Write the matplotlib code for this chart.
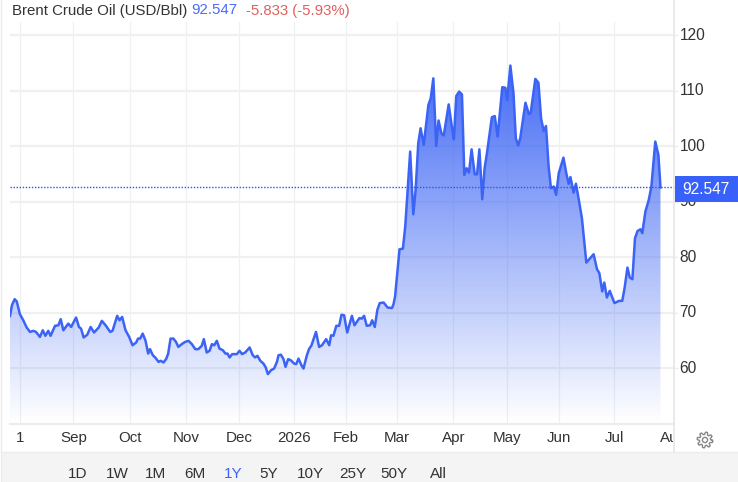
import numpy as np
import matplotlib
matplotlib.use('Agg')
import matplotlib.pyplot as plt
from matplotlib.patches import Polygon, Rectangle, Circle
from matplotlib.colors import LinearSegmentedColormap
from matplotlib.transforms import Bbox, ScaledTranslation

# session number (trading days on the chart) and price
sessions = [0, .8, 1.8, 2.6, 3.8, 5.1, 6.4, 7.7, 9, 10, 11.5, 12.6, 13.6, 14.7, 15.6, 17.3, 18.6, 19.5, 20.5, 22.4,
            23.5, 25.4, 26.5, 27.3, 28.3, 29.7, 31, 32.3, 34.1, 35.3, 36.9, 38.5, 39.4, 41.2, 42.1, 43.1, 44.4, 45.8, 47.1, 48.5,
            49.2, 50, 51, 52.1, 53.1, 53.8, 54.9, 55.8, 57.1, 57.9, 59, 60, 60.8, 61.7, 62.8, 63.8, 64.7, 66, 67.3, 68.6,
            69.9, 71.2, 72.4, 73.7, 74.5, 75.6, 76.7, 77.6, 78.5, 79.5, 80.5, 81.8, 82.8, 83.6, 84.4, 85.4, 87.2, 88.2, 89.2, 90.4,
            92.1, 93.3, 94.2, 95.1, 96.2, 97.4, 98.3, 99.1, 100.3, 101.5, 102.6, 103.2, 104.1, 105.1, 105.9, 106.9, 107.9, 109.2, 110, 110.9,
            112, 112.8, 114.1, 115, 115.8, 117.6, 118.8, 119.9, 121.5, 122.7, 123.4, 124.3, 125.4, 126.5, 127.4, 128.4, 129.6, 131.4, 132.4, 134.3,
            135.2, 136.1, 137.1, 138.4, 139.2, 140.2, 141.2, 142.1, 143.6, 145.1, 146.8, 147.4, 148, 149.7, 151, 151.9, 153.8, 155, 155.9, 156.9,
            157.8, 159, 160.8, 161.7, 162.7, 163.8, 164.7, 165.8, 166.7, 168.6, 169.9, 170.6, 171.5, 172.6, 173.7, 174.6, 175.5, 176.4, 177.4, 178.6,
            179.5, 180.4, 181.5, 182.4, 183.3, 185.2, 186.3, 187.4, 189.2, 190.4, 191.1, 192.3, 193.5, 194.4, 195.3, 196.1, 198.1, 199.4, 200.1, 201.9,
            203.1, 204.1, 205.1, 206, 207, 207.9, 209, 209.9, 210.9, 212.7, 213.8, 214.7, 215.4, 216.6, 217.5, 218.5, 219.8, 221.5, 224.3, 225.6,
            226.5, 227.6, 228.4, 229.4, 230.5, 232.3, 234.1, 235.3, 236.2, 237.3, 238.2, 239.2, 240.2, 241.2, 242.3, 243, 244.2, 245.5, 246.5, 248,
            249.2, 250]
prices = [69.4, 71.4, 72.4, 72.0, 69.7, 68.6, 67.3, 66.5, 66.7, 66.5, 65.6, 66.8, 65.8, 66.7, 65.8, 67.6, 67.7, 68.8, 66.8, 68.0,
          67.4, 69.1, 67.4, 67.1, 65.5, 66.0, 67.4, 66.4, 67.3, 68.5, 67.6, 66.5, 66.7, 69.4, 68.6, 69.2, 66.8, 65.6, 64.1, 64.6,
          65.3, 65.3, 66.2, 64.9, 62.6, 63.4, 62.3, 61.9, 61.1, 61.3, 61.0, 61.6, 62.6, 65.3, 65.3, 64.7, 63.8, 64.3, 64.7, 64.9,
          64.3, 63.4, 63.4, 64.0, 65.2, 62.8, 63.1, 64.3, 64.1, 64.9, 63.5, 63.2, 62.6, 62.6, 61.9, 62.5, 62.5, 63.1, 62.5, 62.8,
          63.7, 62.3, 61.9, 62.2, 61.3, 60.8, 60.1, 58.9, 59.6, 59.9, 61.1, 62.3, 62.4, 61.6, 60.2, 61.6, 61.4, 60.8, 60.7, 61.7,
          60.5, 59.9, 62.3, 63.5, 64.0, 66.5, 63.8, 64.1, 65.2, 64.1, 65.9, 65.8, 67.6, 67.6, 69.6, 69.5, 66.4, 69.4, 67.7, 69.0,
          68.9, 69.4, 67.6, 67.7, 68.6, 67.4, 70.5, 71.7, 71.8, 70.9, 70.8, 71.5, 72.9, 81.4, 81.5, 85.5, 99.0, 87.7, 92.1, 100.5,
          103.2, 100.2, 107.4, 108.6, 112.2, 100.0, 104.6, 102.3, 101.9, 107.5, 103.2, 101.2, 109.0, 109.8, 109.3, 94.8, 96.0, 95.2, 99.4, 94.9,
          94.9, 99.4, 90.4, 96.0, 98.7, 105.2, 105.4, 101.7, 110.6, 110.5, 108.3, 114.5, 109.5, 101.4, 100.1, 101.4, 107.8, 105.8, 105.9, 112.1,
          111.4, 105.0, 102.7, 103.6, 96.3, 92.4, 92.7, 91.2, 95.1, 97.9, 95.1, 93.2, 94.4, 91.6, 93.2, 90.6, 87.0, 79.0, 80.5, 77.8,
          77.1, 73.8, 75.4, 72.7, 73.9, 71.7, 72.1, 72.1, 74.4, 78.1, 76.3, 76.0, 83.4, 84.7, 85.0, 84.3, 88.2, 90.3, 92.7, 100.8,
          98.4, 92.547]

month_ticks = [3.7, 24.4, 46, 67.7, 88, 109, 129, 148.8, 170.4, 191, 211, 232.3, 255]
month_labels = ['1', 'Sep', 'Oct', 'Nov', 'Dec', '2026', 'Feb', 'Mar', 'Apr', 'May', 'Jun', 'Jul', 'Aug']
price_ticks = [60, 70, 80, 90, 100, 110, 120]
ranges = ['1D', '1W', '1M', '6M', '1Y', '5Y', '10Y', '25Y', '50Y', 'All']
last_price = prices[-1]

W, H = 738, 482
BLUE = '#3b63f6'
plt.rcParams['font.family'] = ['Liberation Sans', 'DejaVu Sans']

fig = plt.figure(figsize=(W / 100, H / 100), dpi=100)
ax = fig.add_axes([10 / W, 1 - 423.5 / H, 663.5 / W, 401.5 / H])
ax.set_xlim(0, 255)
ax.set_ylim(50, 122.35)

for s in ax.spines.values():
    s.set_visible(False)
ax.spines['bottom'].set_visible(True)
ax.spines['bottom'].set_color('#ececec')
ax.spines['bottom'].set_linewidth(1.6)

ax.set_xticks(month_ticks)
ax.set_xticklabels(month_labels)
ax.tick_params(axis='x', length=0, pad=5.5, labelsize=10.9, labelcolor='#333333')
ax.yaxis.tick_right()
ax.set_yticks(price_ticks)
ax.tick_params(axis='y', length=3, width=1, color='#ececec', pad=1.5, labelsize=11.2, labelcolor='#333333')
ax.grid(axis='x', color='#eef0f3', lw=0.9)
ax.grid(axis='y', color='#f0f0f0', lw=1.6)
ax.set_axisbelow(True)

# price labels sit a little above their grid lines
for lab in ax.get_yticklabels():
    lab.set_transform(lab.get_transform() + ScaledTranslation(0, 1.5 / 100, fig.dpi_scale_trans))

# clip the last month label at the price axis, as in the original
fig.canvas.draw()
for lab in ax.get_xticklabels():
    lab.set_clip_on(True)
    lab.set_clip_box(Bbox([[0, 0], [673, H]]))

# area under the line with a vertical gradient
cmap = LinearSegmentedColormap.from_list('fade', [(0.23, 0.39, 0.96, 0.0), (0.23, 0.39, 0.96, 0.95)])
grad = np.linspace(1, 0, 256).reshape(-1, 1)
im = ax.imshow(grad, cmap=cmap, aspect='auto', extent=[0, 255, 50, 114.5], zorder=2, vmin=0, vmax=1)
area = Polygon(list(zip(sessions, prices)) + [(sessions[-1], 50), (sessions[0], 50)],
               closed=True, transform=ax.transData, fc='none', ec='none')
ax.add_patch(area)
im.set_clip_path(area)
ax.set_xlim(0, 255)
ax.set_ylim(50, 122.35)

ax.plot(sessions, prices, color=BLUE, lw=1.8, zorder=3, solid_joinstyle='round')
ax.plot([0, 258], [last_price, last_price], color='#2f55e8', lw=1, ls=(0, (1, 1.2)), zorder=4, clip_on=False)

# flat page parts drawn in pixel coordinates
page = fig.add_axes([0, 0, 1, 1], zorder=5)
page.set_xlim(0, W)
page.set_ylim(H, 0)
page.axis('off')
page.patch.set_alpha(0)
page.add_patch(Rectangle((1, 452), W, 30, fc='#f4f4f4', ec='none'))
page.plot([1, W], [452, 452], color='#ececec', lw=1)
page.plot([1, 1], [0, H], color='#ececec', lw=1)
page.plot([674, 674], [0, 452], color='#e6e6e6', lw=1.2)
page.add_patch(Rectangle((675, 176), 63, 25.5, fc='#3860fa', ec='none'))
page.text(705.5, 189.5, '%.3f' % last_price, color='white', fontsize=11.2, ha='center', va='center')

page.text(12, 10.5, 'Brent Crude Oil (USD/Bbl)', color='#333333', fontsize=10.8, va='center')
page.text(191.5, 10.5, '92.547', color='#4a6cf7', fontsize=10.8, va='center')
page.text(245.5, 10.5, '-5.833 (-5.93%)', color='#e0605c', fontsize=10.8, va='center')

range_x = [78, 117, 156, 195, 233, 269, 310, 353, 394, 438]
for x, r in zip(range_x, ranges):
    page.text(x, 474.5, r, color='#3b63f6' if r == '1Y' else '#333333', fontsize=11, ha='center', va='center')

# settings gear
ang = np.linspace(0, 2 * np.pi, 97)
rad = 6.7 + 1.2 * np.tanh(3 * np.sin(8 * ang))
page.plot(705 + rad * np.cos(ang), 440 + rad * np.sin(ang), color='#888888', lw=1)
page.add_patch(Circle((705, 440), 2.6, fc='none', ec='#888888', lw=1))

fig.savefig('out.png', dpi=100)
